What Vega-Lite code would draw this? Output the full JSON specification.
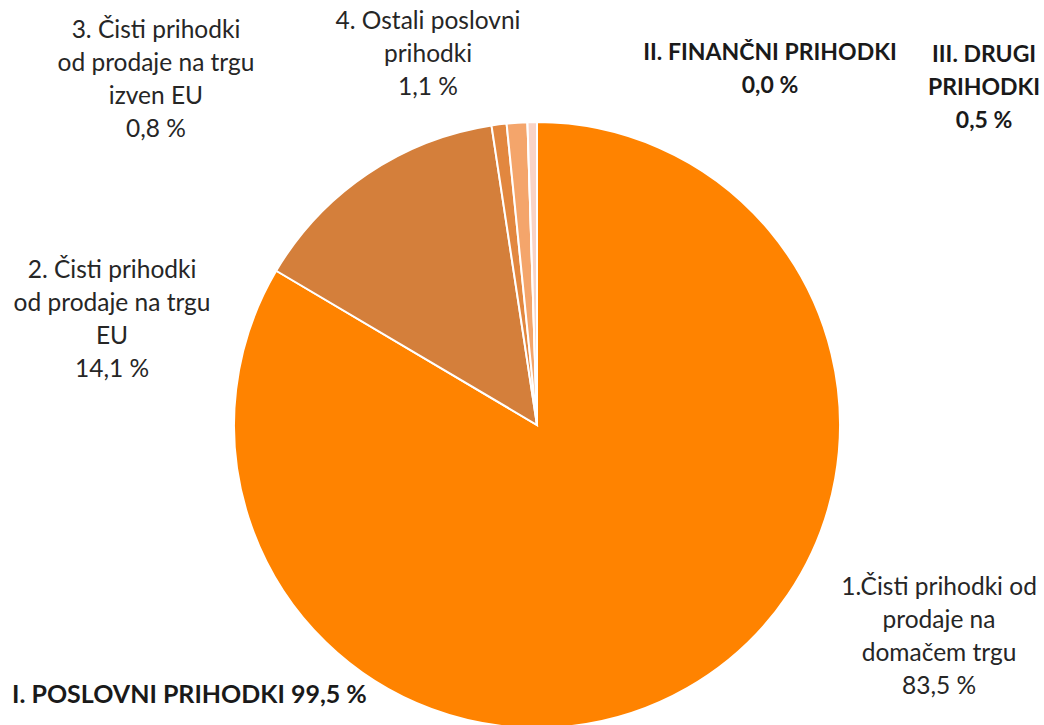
{
  "$schema": "https://vega.github.io/schema/vega-lite/v6.json",
  "width": 1014,
  "height": 600,
  "autosize": {"type": "none"},
  "padding": {"left": 30, "top": 125, "right": 0, "bottom": 0},
  "background": "white",
  "config": {"view": {"stroke": null}},
  "data": {
    "values": [
      {"red": 1, "ime": "1.Čisti prihodki od\nprodaje na\ndomačem trgu", "delez": 83.5},
      {"red": 2, "ime": "2. Čisti prihodki\nod prodaje na trgu\nEU", "delez": 14.1},
      {"red": 3, "ime": "3. Čisti prihodki\nod prodaje na trgu\nizven EU", "delez": 0.8},
      {"red": 4, "ime": "4. Ostali poslovni\nprihodki", "delez": 1.1},
      {"red": 5, "ime": "II. FINANČNI PRIHODKI", "delez": 0.0},
      {"red": 6, "ime": "III. DRUGI\nPRIHODKI", "delez": 0.5}
    ]
  },
  "transform": [
    {"calculate": "datum.ime + '\\n' + replace(format(datum.delez, '.1f'), '.', ',') + ' %'", "as": "oznaka"}
  ],
  "encoding": {
    "theta": {"field": "delez", "type": "quantitative", "stack": true, "scale": {"domain": [0, 100]}},
    "order": {"field": "red", "type": "quantitative"},
    "detail": {"field": "ime", "type": "nominal"}
  },
  "layer": [
    {
      "mark": {"type": "arc", "outerRadius": 303, "stroke": "white", "strokeWidth": 2},
      "encoding": {
        "color": {
          "field": "red",
          "type": "nominal",
          "scale": {"domain": [1, 2, 3, 4, 5, 6], "range": ["#FF8300", "#D47F3B", "#E2873F", "#F4A56B", "#F7B98F", "#F9D3C6"]},
          "legend": null
        }
      }
    },
    {
      "mark": {"type": "text", "radius": 433.8, "thetaOffset": -0.6672, "font": "Lato", "fontSize": 24.5, "lineBreak": "\n", "lineHeight": 33, "align": "center", "baseline": "middle", "color": "#262626"},
      "encoding": {"text": {"condition": {"test": "datum.red === 1", "field": "oznaka", "type": "nominal"}, "value": ""}}
    },
    {
      "mark": {"type": "text", "radius": 452, "thetaOffset": -0.6294, "font": "Lato", "fontSize": 24.5, "lineBreak": "\n", "lineHeight": 33, "align": "center", "baseline": "middle", "color": "#262626"},
      "encoding": {"text": {"condition": {"test": "datum.red === 2", "field": "oznaka", "type": "nominal"}, "value": ""}}
    },
    {
      "mark": {"type": "text", "radius": 548.1, "thetaOffset": -0.643, "font": "Lato", "fontSize": 24.5, "lineBreak": "\n", "lineHeight": 33, "align": "center", "baseline": "middle", "color": "#262626"},
      "encoding": {"text": {"condition": {"test": "datum.red === 3", "field": "oznaka", "type": "nominal"}, "value": ""}}
    },
    {
      "mark": {"type": "text", "radius": 417.5, "thetaOffset": -0.1981, "font": "Lato", "fontSize": 24.5, "lineBreak": "\n", "lineHeight": 33, "align": "center", "baseline": "middle", "color": "#262626"},
      "encoding": {"text": {"condition": {"test": "datum.red === 4", "field": "oznaka", "type": "nominal"}, "value": ""}}
    },
    {
      "mark": {"type": "text", "radius": 438.9, "thetaOffset": 0.591, "font": "Lato", "fontSize": 23, "fontWeight": "bold", "lineBreak": "\n", "lineHeight": 33, "align": "center", "baseline": "middle", "color": "#1a1a1a"},
      "encoding": {"text": {"condition": {"test": "datum.red === 5", "field": "oznaka", "type": "nominal"}, "value": ""}}
    },
    {
      "mark": {"type": "text", "radius": 580.3, "thetaOffset": 0.8952, "font": "Lato", "fontSize": 23, "fontWeight": "bold", "lineBreak": "\n", "lineHeight": 33, "align": "center", "baseline": "middle", "color": "#1a1a1a"},
      "encoding": {"text": {"condition": {"test": "datum.red === 6", "field": "oznaka", "type": "nominal"}, "value": ""}}
    },
    {
      "data": {"values": [{"skupina": "I. POSLOVNI PRIHODKI", "delez": 99.5}]},
      "transform": [
        {"calculate": "datum.skupina + ' ' + replace(format(datum.delez, '.1f'), '.', ',') + ' %'", "as": "naslov"}
      ],
      "mark": {"type": "text", "radius": 590.4, "thetaOffset": 1.1114, "font": "Lato", "fontSize": 25, "fontWeight": "bold", "align": "left", "baseline": "middle", "color": "#1a1a1a"},
      "encoding": {
        "theta": {"field": "delez", "type": "quantitative", "stack": true, "scale": {"domain": [0, 100]}},
        "order": null,
        "detail": null,
        "text": {"field": "naslov", "type": "nominal"}
      }
    }
  ]
}
